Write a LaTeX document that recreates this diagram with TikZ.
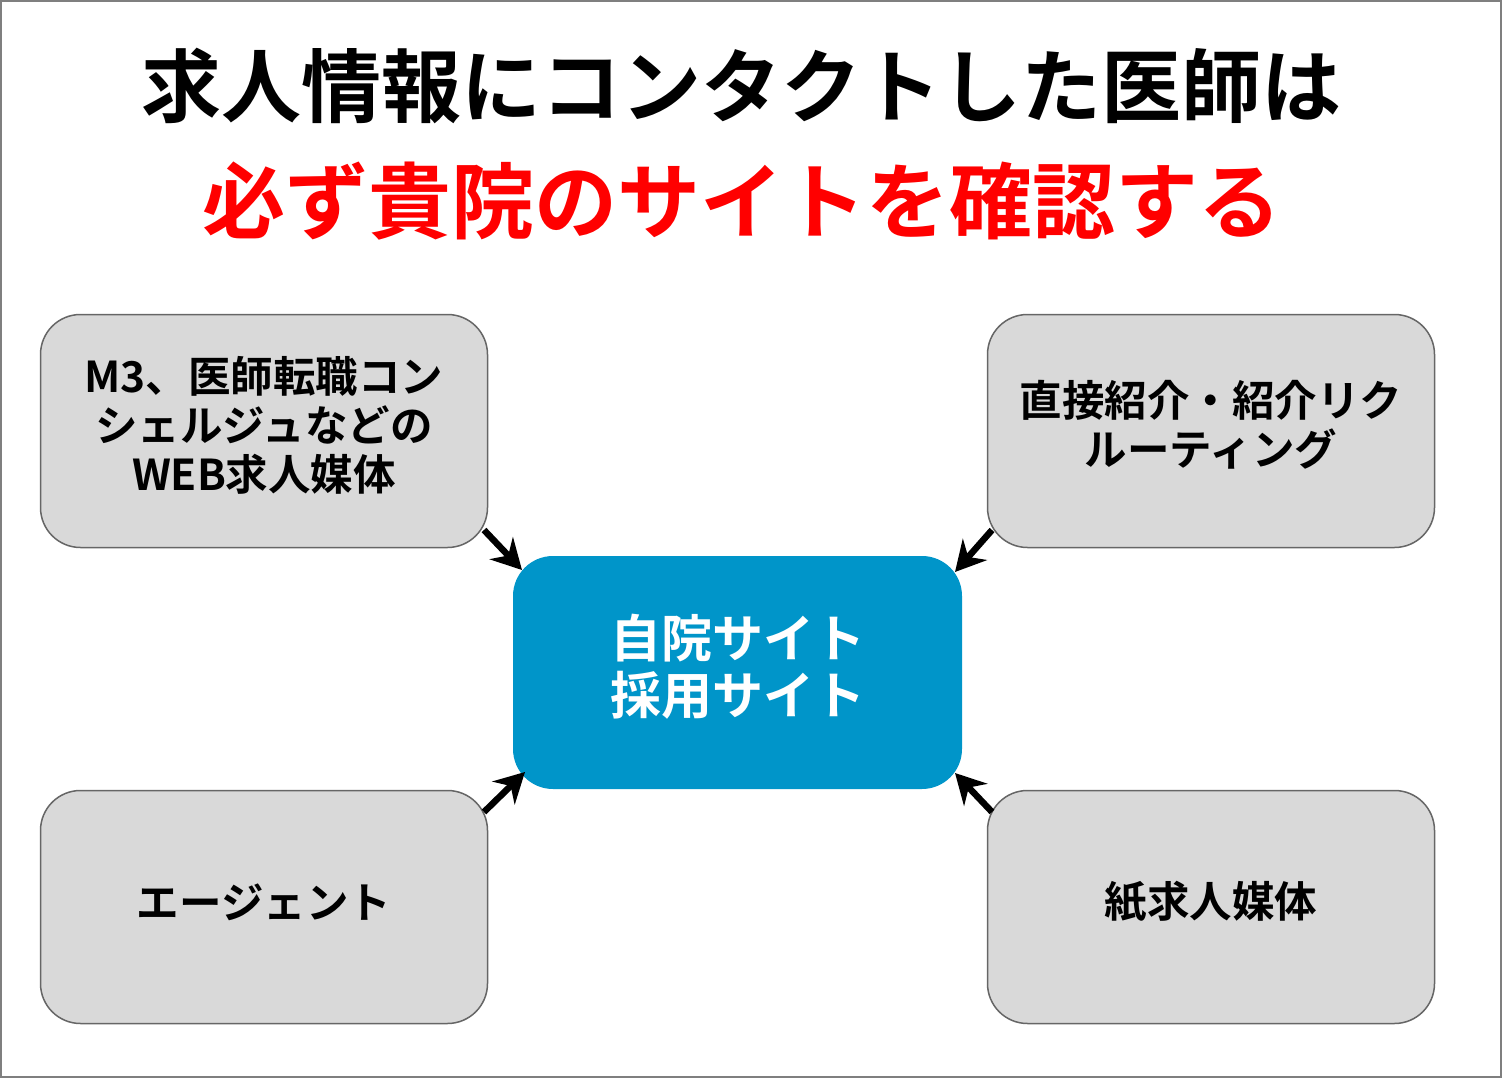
\documentclass[tikz,border=0pt]{standalone}
\usepackage{fontspec}
\setmainfont{Noto Sans CJK JP}[BoldFont={Noto Sans CJK JP Bold}]
\usetikzlibrary{arrows.meta}
\definecolor{boxgray}{HTML}{D9D9D9}
\definecolor{boxedge}{HTML}{666666}
\definecolor{centerblue}{HTML}{0095C9}
\definecolor{framegray}{HTML}{7F7F7F}
\definecolor{titlered}{HTML}{FF0000}
\begin{document}
\begin{tikzpicture}[x=1pt,y=-1pt,
  srcbox/.style={draw=boxedge,line width=1.5pt,fill=boxgray,rounded corners=40pt,
    minimum width=447pt,minimum height=233pt,inner sep=0pt},
  srctext/.style={align=center,font=\fontsize{42.5}{49}\selectfont\bfseries,inner sep=0pt},
  hubbox/.style={fill=centerblue,rounded corners=40pt,minimum width=449pt,minimum height=233pt,inner sep=0pt},
  hubtext/.style={align=center,text=white,font=\fontsize{51}{57}\selectfont\bfseries,inner sep=0pt},
  feed/.style={line width=6.5pt,-{Stealth[length=30pt,width=32pt,inset=10pt]}}]
\useasboundingbox (0,0) rectangle (1502,1078);
\draw[framegray,line width=2pt] (1,1) rectangle (1501,1077);
\node[font=\fontsize{80}{90}\selectfont\bfseries] (t1) at (741,86) {求人情報にコンタクトした医師は};
\node[font=\fontsize{83}{90}\selectfont\bfseries,text=titlered] (t2) at (742,201) {必ず貴院のサイトを確認する};
\node[srcbox] (a) at (264,431) {};
\node[srcbox] (b) at (1211,431) {};
\node[srcbox] (c) at (264,907) {};
\node[srcbox] (d) at (1211,907) {};
\node[hubbox] (h) at (737.5,672.5) {};
\node[srctext] (at) at (264,425) {M3、医師転職コン\\シェルジュなどの\\WEB求人媒体};
\node[srctext] (bt) at (1211,425) {直接紹介・紹介リク\\ルーティング};
\node[srctext] (ct) at (264,902) {エージェント};
\node[srctext] (dt) at (1211,902) {紙求人媒体};
\node[hubtext] (ht) at (737.5,667) {自院サイト\\採用サイト};
\coordinate (ae) at (484,530);
\coordinate (be) at (992,530);
\coordinate (ce) at (484,812);
\coordinate (de) at (992,812);
\coordinate (ah) at (522,570);
\coordinate (bh) at (955,572);
\coordinate (ch) at (525,772);
\coordinate (dh) at (955,773);
\draw[feed] (ae) -- (ah);
\draw[feed] (be) -- (bh);
\draw[feed] (ce) -- (ch);
\draw[feed] (de) -- (dh);
\end{tikzpicture}
\end{document}
